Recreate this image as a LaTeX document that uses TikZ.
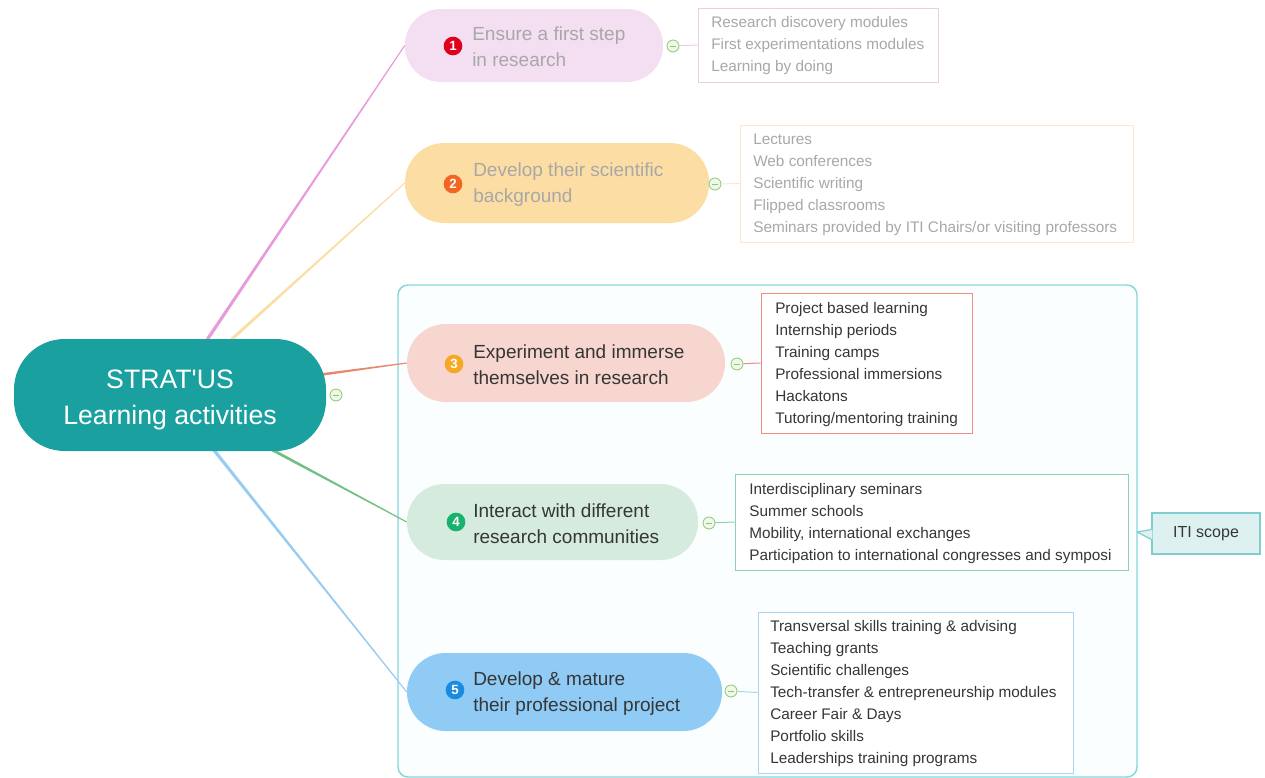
\documentclass[tikz,border=0pt]{standalone}
\usepackage{fontspec}
\setmainfont{Liberation Sans}
\newfontfamily\ctrfont[Ligatures=TeXOff]{Liberation Sans}
\usetikzlibrary{calc}
\pgfdeclarelayer{back}
\pgfdeclarelayer{mid}
\pgfsetlayers{back,mid,main}
\definecolor{teal1}{HTML}{1BA0A0}
\definecolor{f1}{HTML}{F4DEF1}
\definecolor{f2}{HTML}{FCDDA4}
\definecolor{f3}{HTML}{F8D6D0}
\definecolor{f4}{HTML}{D4EBDD}
\definecolor{f5}{HTML}{8FCBF5}
\definecolor{b1}{HTML}{E0001B}
\definecolor{b2}{HTML}{F26522}
\definecolor{b3}{HTML}{F7A823}
\definecolor{b4}{HTML}{17B26B}
\definecolor{b5}{HTML}{1B8BE0}
\definecolor{c1}{HTML}{E79BDA}
\definecolor{c2}{HTML}{FBDDA5}
\definecolor{c3}{HTML}{E8866E}
\definecolor{c4}{HTML}{72BF83}
\definecolor{c5}{HTML}{99CCF2}
\definecolor{l1}{HTML}{EECBE6}
\definecolor{l2}{HTML}{FCE6CC}
\definecolor{l3}{HTML}{F08C84}
\definecolor{l4}{HTML}{8ED2B0}
\definecolor{l5}{HTML}{A9D5F2}
\definecolor{fade}{HTML}{A8A8A8}
\definecolor{dark}{HTML}{363636}
\definecolor{itiline}{HTML}{86D6DC}
\definecolor{itifill}{HTML}{FBFEFE}
\definecolor{scopefill}{HTML}{DDF1F1}
\definecolor{scopeline}{HTML}{80CDD0}
\definecolor{knobgreen}{HTML}{8CC870}
\definecolor{knobfill}{HTML}{EEF8E8}
\newcommand\taperline[4]{%
  \fill[#1] ($(#2)!#4!90:(#3)$) -- ($(#3)!0.4pt!-90:(#2)$) -- ($(#3)!0.4pt!90:(#2)$) -- ($(#2)!#4!-90:(#3)$) -- cycle;}
\begin{document}
\begin{tikzpicture}[x=0.75pt,y=-0.75pt,
  pill/.style={rectangle, inner sep=0pt, draw=none},
  badge/.style={circle, inner sep=0pt, minimum size=14pt, text=white, font=\fontsize{10}{10}\selectfont\bfseries},
  ttl/.style={anchor=west, inner sep=0pt, align=left, font=\fontsize{14.25}{19.5}\selectfont},
  lst/.style={rectangle, draw, inner sep=0pt, line width=0.75pt, fill=white},
  lsttxt/.style={anchor=west, inner sep=0pt, align=left, font=\fontsize{11.5}{16.5}\selectfont},
  knob/.style={circle, draw=knobgreen, fill=knobfill, line width=0.6pt, minimum size=9pt, inner sep=0pt,
    path picture={\draw[knobgreen, line width=0.6pt] ($(path picture bounding box.center)+(-2.2pt,0)$) -- ($(path picture bounding box.center)+(2.2pt,0)$);}},
  link/.style={line width=0.75pt}
]
\useasboundingbox (0,0) rectangle (1265,778);

% background and ITI scope frame
\begin{pgfonlayer}{back}
\fill[white] (0,0) rectangle (1265,778);
\draw[itiline, fill=itifill, line width=1.1pt, rounded corners=7.5pt] (398,285) rectangle (1137,777);
\end{pgfonlayer}

% central node
\node[pill, fill=teal1, minimum width=234pt, minimum height=84pt, rounded corners=38pt] (c) at (170,395) {};
\node[inner sep=0pt, align=center, text=white, font=\ctrfont\fontsize{20}{27}\selectfont] (ct) at (170,400) {STRAT'US\\Learning activities};
\node[knob] (k0) at (336,395) {};

% branch 1
\node[pill, fill=f1, minimum width=193.5pt, minimum height=54.75pt, rounded corners=27pt] (n1) at (534,45.5) {};
\node[badge, fill=b1] (bd1) at (453,46) {1};
\node[ttl, text=fade] (t1) at (472,47) {Ensure a first step\\in research};
\node[knob] (k1) at (673,46) {};
\node[lst, draw=l1, minimum width=180pt, minimum height=55.5pt] (L1) at (818,45) {};
\node[lsttxt, text=fade] (lt1) at (711,46) {Research discovery modules\\First experimentations modules\\Learning by doing};

% branch 2
\node[pill, fill=f2, minimum width=228pt, minimum height=60pt, rounded corners=29.5pt] (n2) at (557,183) {};
\node[badge, fill=b2] (bd2) at (453,184) {2};
\node[ttl, text=fade] (t2) at (473,184.5) {Develop their scientific\\background};
\node[knob] (k2) at (715,184) {};
\node[lst, draw=l2, minimum width=294.75pt, minimum height=87.75pt] (L2) at (936.5,183.5) {};
\node[lsttxt, text=fade] (lt2) at (753,185) {Lectures\\Web conferences\\Scientific writing\\Flipped classrooms\\Seminars provided by ITI Chairs/or visiting professors};

% branch 3
\node[pill, fill=f3, minimum width=238.5pt, minimum height=58.5pt, rounded corners=29pt] (n3) at (566,363) {};
\node[badge, fill=b3] (bd3) at (454,364) {3};
\node[ttl, text=dark] (t3) at (473,365) {Experiment and immerse\\themselves in research};
\node[knob] (k3) at (737,364) {};
\node[lst, draw=l3, minimum width=158.25pt, minimum height=105pt] (L3) at (866.5,363) {};
\node[lsttxt, text=dark] (lt3) at (775,364.5) {Project based learning\\Internship periods\\Training camps\\Professional immersions\\Hackatons\\Tutoring/mentoring training};

% branch 4
\node[pill, fill=f4, minimum width=218.25pt, minimum height=57pt, rounded corners=28pt] (n4) at (552.5,522) {};
\node[badge, fill=b4] (bd4) at (456,522) {4};
\node[ttl, text=dark] (t4) at (473,523.5) {Interact with different\\research communities};
\node[knob] (k4) at (709,523) {};
\node[lst, draw=l4, minimum width=294.75pt, minimum height=72pt] (L4) at (931.5,522) {};
\node[lsttxt, text=dark] (lt4) at (749,524) {Interdisciplinary seminars\\Summer schools\\Mobility, international exchanges\\Participation to international congresses and symposi};

% branch 5
\node[pill, fill=f5, minimum width=236.25pt, minimum height=58.5pt, rounded corners=29pt] (n5) at (564.5,692) {};
\node[badge, fill=b5] (bd5) at (455,690) {5};
\node[ttl, text=dark] (t5) at (473,694) {Develop \& mature\\their professional project};
\node[knob] (k5) at (731,691) {};
\node[lst, draw=l5, minimum width=236.25pt, minimum height=120.75pt] (L5) at (915.5,692.5) {};
\node[lsttxt, text=dark] (lt5) at (770,694) {Transversal skills training \& advising\\Teaching grants\\Scientific challenges\\Tech-transfer \& entrepreneurship modules\\Career Fair \& Days\\Portfolio skills\\Leaderships training programs};

% ITI scope callout
\node[rectangle, draw=scopeline, fill=scopefill, line width=0.9pt, minimum width=81pt, minimum height=30.75pt, inner sep=0pt, font=\fontsize{12}{12}\selectfont, text=dark] (iti) at (1206,533.5) {ITI scope};
\coordinate (itip) at (1137,532);
\fill[scopefill] ($(iti.west)+(0.8pt,-4.5pt)$) -- (itip) -- ($(iti.west)+(0.8pt,3pt)$) -- cycle;
\draw[scopeline, line width=0.9pt, line join=round] ($(iti.west)+(0,-4.5pt)$) -- (itip) -- ($(iti.west)+(0,3pt)$);

% connectors
\begin{pgfonlayer}{mid}
\taperline{c1}{c.center}{n1.west}{1.4pt}
\taperline{c2}{c.center}{n2.west}{1.4pt}
\taperline{c3}{c.center}{n3.west}{2.0pt}
\taperline{c4}{c.center}{n4.west}{1.6pt}
\taperline{c5}{c.center}{n5.west}{1.4pt}
\end{pgfonlayer}
\draw[link, l1] (k1) -- (L1.west);
\draw[link, l2] (k2) -- (L2.west);
\draw[link, l3] (k3) -- (L3.west);
\draw[link, l4] (k4) -- (L4.west);
\draw[link, l5] (k5) -- (L5.west);
\end{tikzpicture}
\end{document}
